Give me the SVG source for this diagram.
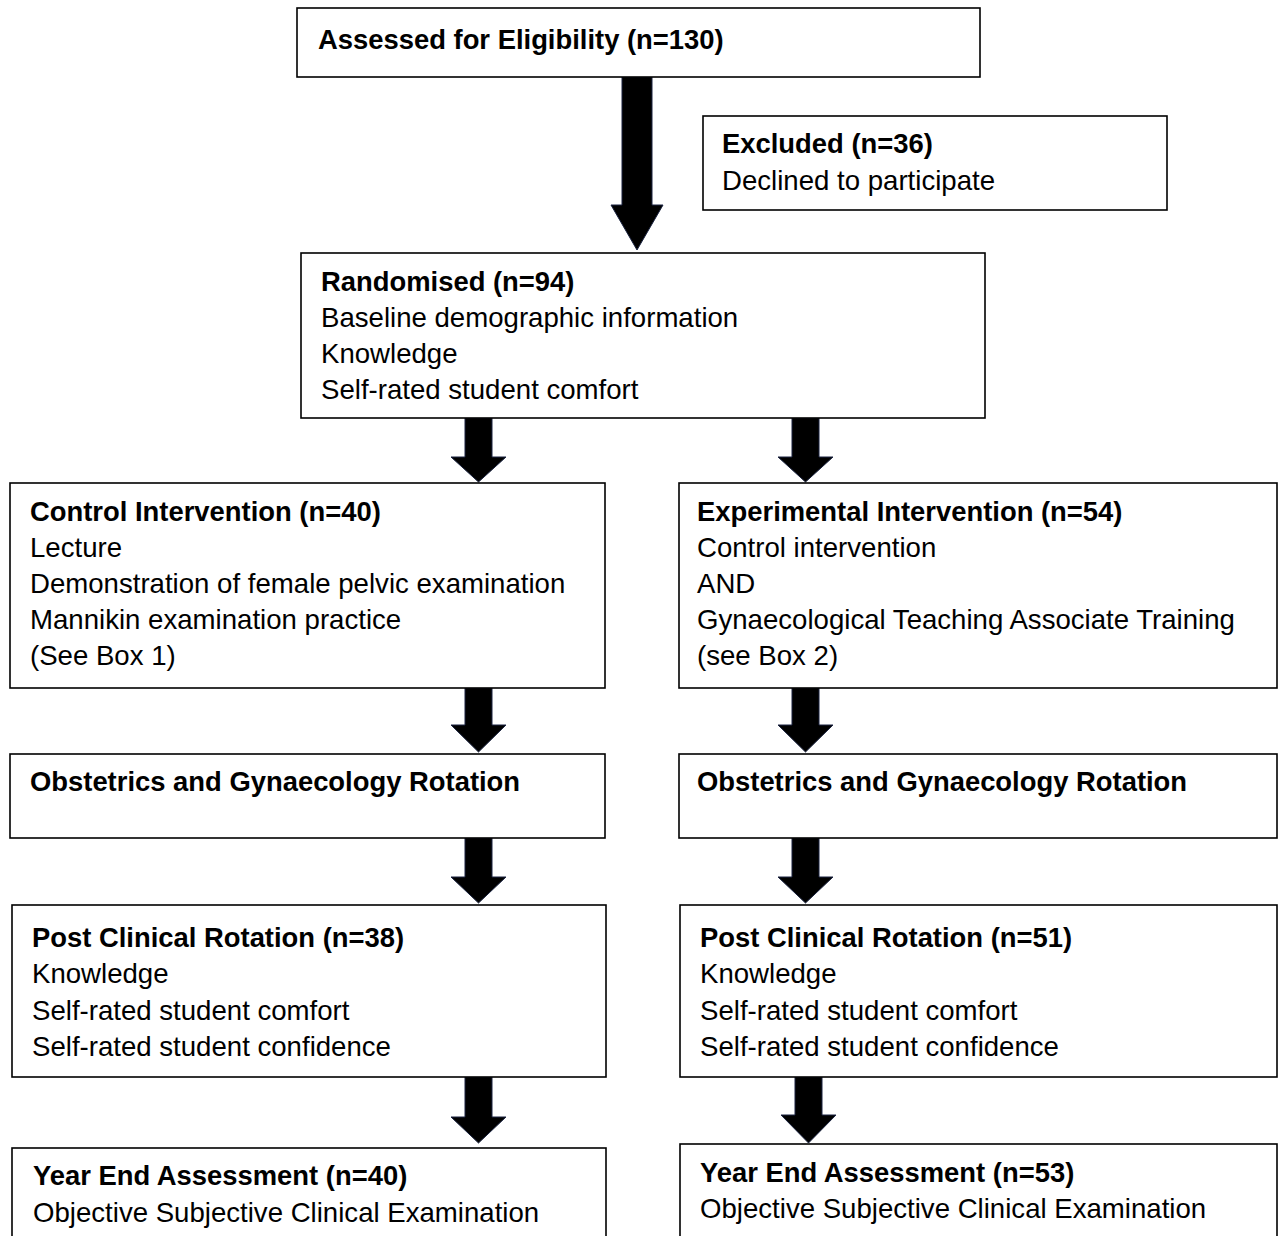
<svg xmlns="http://www.w3.org/2000/svg" width="1278" height="1236" viewBox="0 0 1278 1236">
<style>
.box{fill:#fff;stroke:#000;stroke-width:1.6}
.arr{fill:#000;stroke:#1a2340;stroke-width:1}
text{font-family:"Liberation Sans",Arial,sans-serif;font-size:27.6px;fill:#000}
.b{font-weight:bold;font-size:27.4px}
</style>
<rect width="1278" height="1236" fill="#fff"/>
<g id="connectors">
<path class="arr" d="M622,77 H652 V205 H663 L637,250 L611,205 H622 Z"/>
<path class="arr" d="M465,418 H492 V457 H506 L478.5,482 L451,457 H465 Z"/>
<path class="arr" d="M792,418 H819 V457 H833 L805.5,482 L778,457 H792 Z"/>
<path class="arr" d="M465,688 H492 V725 H506 L478.5,752 L451,725 H465 Z"/>
<path class="arr" d="M792,688 H819 V725 H833 L805.5,752 L778,725 H792 Z"/>
<path class="arr" d="M465,838 H492 V877 H506 L478.5,903 L451,877 H465 Z"/>
<path class="arr" d="M792,838 H819 V877 H833 L805.5,903 L778,877 H792 Z"/>
<path class="arr" d="M465,1077 H492 V1117 H506 L478.5,1143 L451,1117 H465 Z"/>
<path class="arr" d="M795,1077 H822 V1115 H836 L808.5,1143 L781,1115 H795 Z"/>
</g>
<g id="assessed">
<rect class="box" x="297" y="8" width="683" height="69"/>
<text class="b" x="318" y="49">Assessed for Eligibility (n=130)</text>
</g>
<g id="excluded">
<rect class="box" x="703" y="116" width="464" height="94"/>
<text class="b" x="722" y="153">Excluded (n=36)</text>
<text x="722" y="190">Declined to participate</text>
</g>
<g id="randomised">
<rect class="box" x="301" y="253" width="684" height="165"/>
<text class="b" x="321" y="291">Randomised (n=94)</text>
<text x="321" y="327">Baseline demographic information</text>
<text x="321" y="363">Knowledge</text>
<text x="321" y="399">Self-rated student comfort</text>
</g>
<g id="control">
<rect class="box" x="10" y="483" width="595" height="205"/>
<text class="b" x="30" y="521">Control Intervention (n=40)</text>
<text x="30" y="557">Lecture</text>
<text x="30" y="593">Demonstration of female pelvic examination</text>
<text x="30" y="629">Mannikin examination practice</text>
<text x="30" y="665">(See Box 1)</text>
</g>
<g id="experimental">
<rect class="box" x="679" y="483" width="598" height="205"/>
<text class="b" x="697" y="521">Experimental Intervention (n=54)</text>
<text x="697" y="557">Control intervention</text>
<text x="697" y="593">AND</text>
<text x="697" y="629">Gynaecological Teaching Associate Training</text>
<text x="697" y="665">(see Box 2)</text>
</g>
<g id="obs-left">
<rect class="box" x="10" y="754" width="595" height="84"/>
<text class="b" x="30" y="791">Obstetrics and Gynaecology Rotation</text>
</g>
<g id="obs-right">
<rect class="box" x="679" y="754" width="598" height="84"/>
<text class="b" x="697" y="791">Obstetrics and Gynaecology Rotation</text>
</g>
<g id="post-left">
<rect class="box" x="12" y="905" width="594" height="172"/>
<text class="b" x="32" y="947">Post Clinical Rotation (n=38)</text>
<text x="32" y="983">Knowledge</text>
<text x="32" y="1020">Self-rated student comfort</text>
<text x="32" y="1056">Self-rated student confidence</text>
</g>
<g id="post-right">
<rect class="box" x="680" y="905" width="597" height="172"/>
<text class="b" x="700" y="947">Post Clinical Rotation (n=51)</text>
<text x="700" y="983">Knowledge</text>
<text x="700" y="1020">Self-rated student comfort</text>
<text x="700" y="1056">Self-rated student confidence</text>
</g>
<g id="yearend-left">
<rect class="box" x="12" y="1148" width="594" height="120"/>
<text class="b" x="33" y="1185">Year End Assessment (n=40)</text>
<text x="33" y="1222">Objective Subjective Clinical Examination</text>
</g>
<g id="yearend-right">
<rect class="box" x="680" y="1144" width="597" height="120"/>
<text class="b" x="700" y="1182">Year End Assessment (n=53)</text>
<text x="700" y="1218">Objective Subjective Clinical Examination</text>
</g>
</svg>
